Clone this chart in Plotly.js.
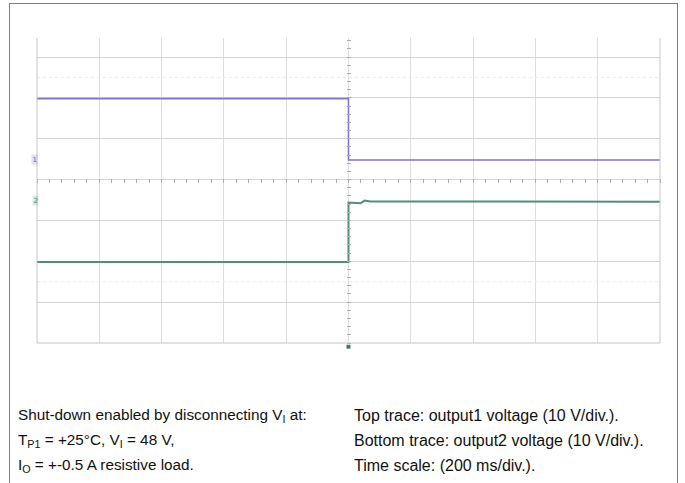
<!DOCTYPE html>
<html>
<head>
<meta charset="utf-8">
<script src="https://cdn.plot.ly/plotly-3.0.1.min.js"></script>
<style>
  html, body { margin: 0; padding: 0; background: #fff; }
  #wrap { position: relative; width: 685px; height: 483px; overflow: hidden; }
  #chart { width: 685px; height: 483px; }
  #frame { position: absolute; left: 9px; top: 3px; width: 667px; height: 500px;
           border: 1px solid #7f7f7f; border-bottom: none; pointer-events: none; }
</style>
</head>
<body>
<div id="wrap">
  <div id="chart"></div>
  <div id="frame"></div>
</div>
<script>
// ---- scope settings ----
const msPerDiv = 200;            // time scale
const voltsPerDiv = 10;          // both channels
const xDivRange = [-5, 5];       // horizontal divisions shown (trigger at centre)
const yDivRange = [-4, 3.465];   // vertical divisions shown (top is cropped)
const ch1GroundDiv = 0.5;        // channel 1 ground marker position (div)
const ch2GroundDiv = -0.5;       // channel 2 ground marker position (div)

// ---- output1 voltage (top trace) ----
const ch1Time  = [-1000, 0, 0, 1000];          // ms
const ch1Volts = [14.8, 14.8, -0.2, -0.2];     // V

// ---- output2 voltage (bottom trace) ----
const ch2Time  = [-1000, 0, 0, 20, 38, 52, 70, 1000];            // ms
const ch2Volts = [-15.2, -15.2, -0.6, -0.8, -0.8, -0.15, -0.35, -0.4]; // V

// ---- caption texts ----
const leftLines = [
  'Shut-down enabled by disconnecting V<sub>I</sub> at:',
  'T<sub>P1</sub> = +25°C, V<sub>I</sub> = 48 V,',
  'I<sub>O</sub> = +-0.5 A resistive load.'
];
const rightLines = [
  'Top trace: output1 voltage (10 V/div.).',
  'Bottom trace: output2 voltage (10 V/div.).',
  'Time scale: (200 ms/div.).'
];

const purple = '#7d76cc';
const green  = '#4f8f76';
const gridC  = '#dedede';
const tickC  = '#ababab';
const edgeC  = '#c6c6c6';

const xRange = xDivRange.map(d => d * msPerDiv);
const ch1Range = yDivRange.map(d => (d - ch1GroundDiv) * voltsPerDiv);
const ch2Range = yDivRange.map(d => (d - ch2GroundDiv) * voltsPerDiv);

const M = { l: 37, r: 25, t: 38, b: 140 };
const plotW = 685 - M.l - M.r, plotH = 483 - M.t - M.b;
const centreYpx = M.t + (yDivRange[1] / (yDivRange[1] - yDivRange[0])) * plotH;
const pxToPaperX = px => (px - M.l) / plotW;
const pxToPaperY = py => (M.t + plotH - py) / plotH;

const traces = [
  { x: ch1Time, y: ch1Volts, xaxis: 'x', yaxis: 'y2', type: 'scatter', mode: 'lines',
    line: { color: purple, width: 1.6 }, hoverinfo: 'skip', showlegend: false },
  { x: ch2Time, y: ch2Volts, xaxis: 'x', yaxis: 'y3', type: 'scatter', mode: 'lines',
    line: { color: green, width: 2 }, hoverinfo: 'skip', showlegend: false }
];

const annotations = [];
const leftFont  = { family: 'Liberation Sans, Arial, sans-serif', size: 15.3, color: '#111' };
const rightFont = { family: 'Liberation Sans, Arial, sans-serif', size: 16, color: '#111' };
const lineY = [415, 440, 466];
leftLines.forEach((t, i) => annotations.push({
  xref: 'paper', yref: 'paper', x: pxToPaperX(16), y: pxToPaperY(lineY[i]),
  xanchor: 'left', yanchor: 'middle', text: t, showarrow: false, font: leftFont
}));
rightLines.forEach((t, i) => annotations.push({
  xref: 'paper', yref: 'paper', x: pxToPaperX(352), y: pxToPaperY(lineY[i]),
  xanchor: 'left', yanchor: 'middle', text: t, showarrow: false, font: rightFont
}));
// channel ground markers
annotations.push({ xref: 'paper', yref: 'y2', x: pxToPaperX(34), y: 0, text: '1',
  showarrow: false, xanchor: 'center', yanchor: 'middle', borderpad: 0.5,
  font: { family: 'DejaVu Sans', size: 7, color: '#6f68c8' }, bgcolor: 'rgba(140,130,220,0.25)' });
annotations.push({ xref: 'paper', yref: 'y3', x: pxToPaperX(35), y: 0, text: '2',
  showarrow: false, xanchor: 'center', yanchor: 'middle', borderpad: 0.5,
  font: { family: 'DejaVu Sans', size: 7, color: '#4f8f76' }, bgcolor: 'rgba(80,150,120,0.2)' });
// trigger marker
annotations.push({ xref: 'x', yref: 'paper', x: 0, y: pxToPaperY(346), text: '■',
  showarrow: false, xanchor: 'center', yanchor: 'middle', borderpad: 0,
  font: { family: 'DejaVu Sans', size: 5, color: '#3e6f7c' } });

const shapes = [
  // faint dotted rows in the screen
  { type: 'line', xref: 'paper', x0: 0, x1: 1, yref: 'y', y0: 2.5, y1: 2.5,
    line: { color: '#ebebeb', width: 1, dash: 'dot' } },
  { type: 'line', xref: 'paper', x0: 0, x1: 1, yref: 'y', y0: -2.5, y1: -2.5,
    line: { color: '#ebebeb', width: 1, dash: 'dot' } },
  // graticule edges (left, right, bottom; top is cropped)
  { type: 'line', xref: 'paper', yref: 'paper', x0: 0, x1: 0, y0: 0, y1: 1, line: { color: edgeC, width: 1 } },
  { type: 'line', xref: 'paper', yref: 'paper', x0: 1, x1: 1, y0: 0, y1: 1, line: { color: edgeC, width: 1 } },
  { type: 'line', xref: 'paper', yref: 'paper', x0: 0, x1: 1, y0: 0, y1: 0, line: { color: edgeC, width: 1 } }
];

const layout = {
  width: 685, height: 483,
  margin: M,
  paper_bgcolor: '#fff', plot_bgcolor: '#fff',
  showlegend: false,
  xaxis: {
    range: xRange, dtick: msPerDiv, tick0: 0, showgrid: true, gridcolor: gridC, gridwidth: 1,
    zeroline: false, showline: false, showticklabels: false,
    ticks: 'outside', ticklen: 4, tickcolor: tickC, tickwidth: 1,
    minor: { dtick: msPerDiv / 5, ticks: 'outside', ticklen: 4, tickcolor: tickC, showgrid: false },
    anchor: 'free', position: pxToPaperY(centreYpx - 2), fixedrange: true
  },
  yaxis: {
    range: yDivRange, dtick: 1, tick0: 0, showgrid: true, gridcolor: '#d6d6d6', gridwidth: 1,
    zeroline: false, showline: false, showticklabels: false,
    ticks: 'outside', ticklen: 4, tickcolor: tickC, tickwidth: 1,
    minor: { dtick: 0.2, ticks: 'outside', ticklen: 4, tickcolor: tickC, showgrid: false },
    anchor: 'free', position: pxToPaperX(M.l + plotW / 2 + 2), fixedrange: true
  },
  yaxis2: { range: ch1Range, overlaying: 'y', visible: false, fixedrange: true },
  yaxis3: { range: ch2Range, overlaying: 'y', visible: false, fixedrange: true },
  annotations: annotations,
  shapes: shapes
};

Plotly.newPlot('chart', traces, layout, { staticPlot: true, displayModeBar: false });
</script>
</body>
</html>
